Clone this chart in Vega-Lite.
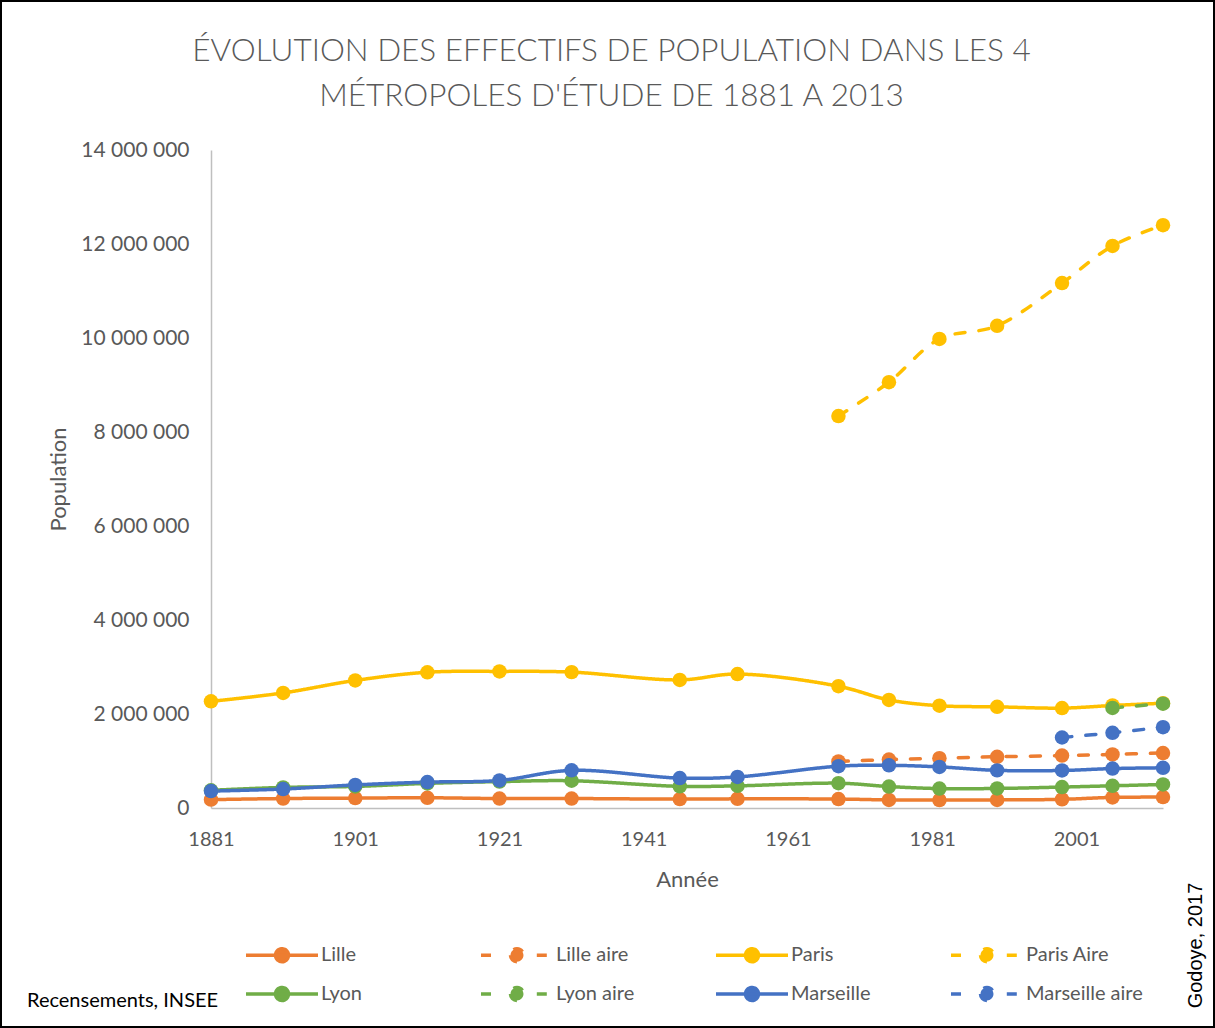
{
  "$schema": "https://vega.github.io/schema/vega-lite/v6.json",
  "autosize": {"type": "none"},
  "padding": 1,
  "width": 1213,
  "height": 1026,
  "background": "white",
  "config": {
    "view": {"stroke": "black", "strokeWidth": 2},
    "locale": {"number": {"decimal": ",", "thousands": " ", "grouping": [3], "currency": ["", " €"]}},
    "font": "Lato"
  },
  "title": {
    "text": ["ÉVOLUTION DES EFFECTIFS DE POPULATION DANS LES 4", "MÉTROPOLES D'ÉTUDE DE 1881 A 2013"],
    "anchor": "middle",
    "frame": "group",
    "font": "Lato",
    "fontSize": 31.5,
    "fontWeight": 300,
    "color": "#595959",
    "lineHeight": 45,
    "offset": -111,
    "dx": 4
  },
  "data": {
    "values": [
      {"annee": 1881, "serie": "Lille", "population": 178144},
      {"annee": 1891, "serie": "Lille", "population": 201211},
      {"annee": 1901, "serie": "Lille", "population": 210696},
      {"annee": 1911, "serie": "Lille", "population": 217807},
      {"annee": 1921, "serie": "Lille", "population": 200952},
      {"annee": 1931, "serie": "Lille", "population": 201568},
      {"annee": 1946, "serie": "Lille", "population": 188871},
      {"annee": 1954, "serie": "Lille", "population": 194616},
      {"annee": 1968, "serie": "Lille", "population": 190546},
      {"annee": 1975, "serie": "Lille", "population": 172280},
      {"annee": 1982, "serie": "Lille", "population": 168424},
      {"annee": 1990, "serie": "Lille", "population": 172142},
      {"annee": 1999, "serie": "Lille", "population": 184493},
      {"annee": 2006, "serie": "Lille", "population": 225784},
      {"annee": 2013, "serie": "Lille", "population": 231491},
      {"annee": 1968, "serie": "Lille aire", "population": 990000},
      {"annee": 1975, "serie": "Lille aire", "population": 1030000},
      {"annee": 1982, "serie": "Lille aire", "population": 1060000},
      {"annee": 1990, "serie": "Lille aire", "population": 1090000},
      {"annee": 1999, "serie": "Lille aire", "population": 1115000},
      {"annee": 2006, "serie": "Lille aire", "population": 1140000},
      {"annee": 2013, "serie": "Lille aire", "population": 1170000},
      {"annee": 1881, "serie": "Paris", "population": 2269023},
      {"annee": 1891, "serie": "Paris", "population": 2447957},
      {"annee": 1901, "serie": "Paris", "population": 2714068},
      {"annee": 1911, "serie": "Paris", "population": 2888110},
      {"annee": 1921, "serie": "Paris", "population": 2906472},
      {"annee": 1931, "serie": "Paris", "population": 2891020},
      {"annee": 1946, "serie": "Paris", "population": 2725374},
      {"annee": 1954, "serie": "Paris", "population": 2850189},
      {"annee": 1968, "serie": "Paris", "population": 2590771},
      {"annee": 1975, "serie": "Paris", "population": 2299830},
      {"annee": 1982, "serie": "Paris", "population": 2176243},
      {"annee": 1990, "serie": "Paris", "population": 2152423},
      {"annee": 1999, "serie": "Paris", "population": 2125246},
      {"annee": 2006, "serie": "Paris", "population": 2181371},
      {"annee": 2013, "serie": "Paris", "population": 2229621},
      {"annee": 1968, "serie": "Paris Aire", "population": 8340000},
      {"annee": 1975, "serie": "Paris Aire", "population": 9060000},
      {"annee": 1982, "serie": "Paris Aire", "population": 9980000},
      {"annee": 1990, "serie": "Paris Aire", "population": 10260000},
      {"annee": 1999, "serie": "Paris Aire", "population": 11170000},
      {"annee": 2006, "serie": "Paris Aire", "population": 11960000},
      {"annee": 2013, "serie": "Paris Aire", "population": 12400000},
      {"annee": 1881, "serie": "Lyon", "population": 376613},
      {"annee": 1891, "serie": "Lyon", "population": 438077},
      {"annee": 1901, "serie": "Lyon", "population": 459099},
      {"annee": 1911, "serie": "Lyon", "population": 523796},
      {"annee": 1921, "serie": "Lyon", "population": 561592},
      {"annee": 1931, "serie": "Lyon", "population": 579763},
      {"annee": 1946, "serie": "Lyon", "population": 460748},
      {"annee": 1954, "serie": "Lyon", "population": 471270},
      {"annee": 1968, "serie": "Lyon", "population": 527800},
      {"annee": 1975, "serie": "Lyon", "population": 456716},
      {"annee": 1982, "serie": "Lyon", "population": 413095},
      {"annee": 1990, "serie": "Lyon", "population": 415487},
      {"annee": 1999, "serie": "Lyon", "population": 445452},
      {"annee": 2006, "serie": "Lyon", "population": 472330},
      {"annee": 2013, "serie": "Lyon", "population": 500715},
      {"annee": 2006, "serie": "Lyon aire", "population": 2130000},
      {"annee": 2013, "serie": "Lyon aire", "population": 2220000},
      {"annee": 1881, "serie": "Marseille", "population": 360099},
      {"annee": 1891, "serie": "Marseille", "population": 403749},
      {"annee": 1901, "serie": "Marseille", "population": 491161},
      {"annee": 1911, "serie": "Marseille", "population": 550619},
      {"annee": 1921, "serie": "Marseille", "population": 586341},
      {"annee": 1931, "serie": "Marseille", "population": 800881},
      {"annee": 1946, "serie": "Marseille", "population": 636264},
      {"annee": 1954, "serie": "Marseille", "population": 661407},
      {"annee": 1968, "serie": "Marseille", "population": 889029},
      {"annee": 1975, "serie": "Marseille", "population": 908600},
      {"annee": 1982, "serie": "Marseille", "population": 874436},
      {"annee": 1990, "serie": "Marseille", "population": 800550},
      {"annee": 1999, "serie": "Marseille", "population": 798430},
      {"annee": 2006, "serie": "Marseille", "population": 839043},
      {"annee": 2013, "serie": "Marseille", "population": 855393},
      {"annee": 1999, "serie": "Marseille aire", "population": 1500000},
      {"annee": 2006, "serie": "Marseille aire", "population": 1600000},
      {"annee": 2013, "serie": "Marseille aire", "population": 1720000}
    ]
  },
  "layer": [
    {
      "mark": {"type": "line", "interpolate": "catmull-rom", "strokeWidth": 3.5, "strokeCap": "round"},
      "encoding": {
        "x": {
          "field": "annee", "type": "quantitative",
          "scale": {"domain": [1881, 2013], "range": [210, 1162], "nice": false, "zero": false},
          "axis": {
            "values": [1881, 1901, 1921, 1941, 1961, 1981, 2001],
            "format": "d", "offset": -219, "grid": false, "ticks": false, "tickSize": 0,
            "domainColor": "#BFBFBF", "domainWidth": 1.5,
            "labelPadding": 21, "labelFontSize": 20, "labelColor": "#595959", "labelFont": "Lato",
            "labelFlush": false, "labelOverlap": false,
            "title": "Année", "titleFontSize": 22, "titleColor": "#595959", "titleFontWeight": "normal", "titleFont": "Lato",
            "titleY": 71, "titleBaseline": "middle"
          }
        },
        "y": {
          "field": "population", "type": "quantitative",
          "scale": {"domain": [0, 14000000], "range": [807, 149], "nice": false},
          "axis": {
            "values": [0, 2000000, 4000000, 6000000, 8000000, 10000000, 12000000, 14000000],
            "format": ",d", "offset": -210, "grid": false, "ticks": false, "tickSize": 0,
            "domainColor": "#BFBFBF", "domainWidth": 1.5,
            "labelPadding": 22, "labelFontSize": 21, "labelColor": "#595959", "labelFont": "Lato",
            "labelOverlap": false,
            "title": "Population", "titleFontSize": 22, "titleColor": "#595959", "titleFontWeight": "normal", "titleFont": "Lato",
            "titleX": -153, "titleY": 478, "titleBaseline": "middle", "titleAlign": "center", "titleAngle": 270
          }
        },
        "color": {
          "field": "serie", "type": "nominal",
          "scale": {
            "domain": ["Lille", "Lille aire", "Paris", "Paris Aire", "Lyon", "Lyon aire", "Marseille", "Marseille aire"],
            "range": ["#ED7D31", "#ED7D31", "#FFC000", "#FFC000", "#70AD47", "#70AD47", "#4472C4", "#4472C4"]
          },
          "legend": {
            "orient": "none", "legendX": 26, "legendY": 934, "padding": 0, "direction": "horizontal",
            "columns": 4, "gridAlign": "all", "columnPadding": 36, "rowPadding": 5,
            "symbolSize": 1296, "symbolOffset": 18, "labelOffset": 19, "symbolStrokeWidth": 3.5,
            "labelFontSize": 20, "labelColor": "#595959", "labelFont": "Lato", "labelLimit": 300,
            "title": "Recensements, INSEE", "titleOrient": "left", "titleAnchor": "end", "titleLimit": 400,
            "titlePadding": 25, "titleFontSize": 20, "titleColor": "black", "titleFontWeight": "normal", "titleFont": "Lato",
            "titleBaseline": "alphabetic",
            "encode": {
              "symbols": {
                "update": {
                  "shape": {"signal": "indexof(lower(datum.value), 'aire') >= 0 ? 'M-2,0H-1.1M1.1,0H2M-0.36,0A0.36,0.36,0,1,0,0.36,0A0.36,0.36,0,1,0,-0.36,0Z' : 'M-2,0H2M-0.36,0A0.36,0.36,0,1,0,0.36,0A0.36,0.36,0,1,0,-0.36,0Z'"},
                  "fill": {"scale": "color", "field": "value"},
                  "stroke": {"scale": "color", "field": "value"},
                  "strokeDash": {"value": [1, 0]},
                  "opacity": {"value": 1}
                }
              }
            }
          }
        },
        "strokeDash": {
          "field": "serie", "type": "nominal",
          "scale": {
            "domain": ["Lille", "Lille aire", "Paris", "Paris Aire", "Lyon", "Lyon aire", "Marseille", "Marseille aire"],
            "range": [[1, 0], [10, 14], [1, 0], [10, 14], [1, 0], [10, 14], [1, 0], [10, 14]]
          },
          "legend": null
        }
      }
    },
    {
      "mark": {"type": "point", "filled": true, "size": 210, "opacity": 1},
      "encoding": {
        "x": {"field": "annee", "type": "quantitative"},
        "y": {
          "field": "population", "type": "quantitative",
          "axis": {
            "orient": "right", "labels": false, "ticks": false, "domain": false, "grid": false,
            "title": "Godoye, 2017", "titleAngle": 270, "titleX": -19, "titleY": 944,
            "titleFontSize": 20, "titleColor": "black", "titleFontWeight": "normal", "titleFont": "Liberation Sans",
            "titleBaseline": "middle", "titleAlign": "center"
          }
        },
        "color": {"field": "serie", "type": "nominal"}
      }
    }
  ],
  "resolve": {"axis": {"y": "independent"}}
}
